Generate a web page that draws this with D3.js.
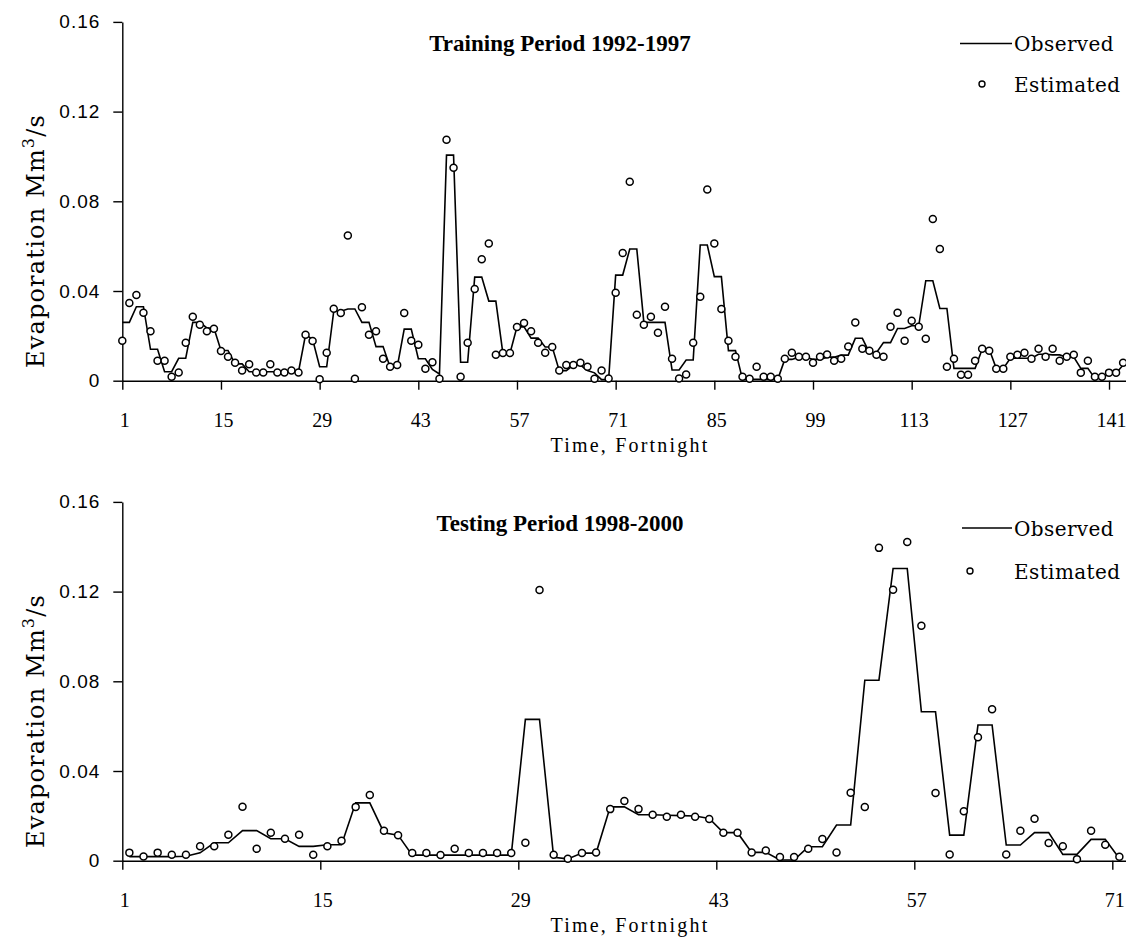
<!DOCTYPE html>
<html>
<head>
<meta charset="utf-8">
<script src="https://cdn.jsdelivr.net/npm/d3@7"></script>
<style>
  body { margin: 0; background: #fff; }
  svg { display: block; background: #fff; }
</style>
</head>
<body>
<svg id="chart" width="1126" height="940"></svg>
<script>
// ---------------- DATA ----------------
const yTickValues = [0, 0.04, 0.08, 0.12, 0.16];

const trainingTitle = "Training Period 1992-1997";
const trainingXTicks = [1, 15, 29, 43, 57, 71, 85, 99, 113, 127, 141];
const trainingObserved = [
  0.026, 0.026, 0.033, 0.033, 0.014, 0.014, 0.004, 0.004, 0.010, 0.010,
  0.026, 0.026, 0.0235, 0.0235, 0.0135, 0.0135, 0.0075, 0.0075, 0.004, 0.004,
  0.004, 0.004, 0.004, 0.004, 0.004, 0.004, 0.0205, 0.0185, 0.0062, 0.0062,
  0.031, 0.031, 0.032, 0.032, 0.026, 0.026, 0.0152, 0.0152, 0.006, 0.006,
  0.023, 0.023, 0.0098, 0.0098, 0.005, 0.003, 0.1006, 0.1006, 0.0082, 0.0082,
  0.0462, 0.0462, 0.0355, 0.0355, 0.0122, 0.0122, 0.024, 0.024, 0.019, 0.019,
  0.015, 0.015, 0.0045, 0.0045, 0.007, 0.007, 0.0045, 0.0035, 0.0005, 0.0005,
  0.0471, 0.0471, 0.0587, 0.0587, 0.026, 0.026, 0.026, 0.026, 0.0048, 0.0048,
  0.0092, 0.0092, 0.0605, 0.0605, 0.0464, 0.0464, 0.0134, 0.0134, 0.0006, 0.0006,
  0.0006, 0.0006, 0.0006, 0.0006, 0.0095, 0.0095, 0.0105, 0.0105, 0.0095, 0.0095,
  0.0105, 0.0105, 0.0114, 0.0114, 0.0189, 0.0189, 0.0125, 0.0125, 0.017, 0.017,
  0.0233, 0.0233, 0.0245, 0.0245, 0.0446, 0.0446, 0.0322, 0.0322, 0.0055, 0.0055,
  0.0055, 0.0055, 0.014, 0.014, 0.0055, 0.0055, 0.01, 0.01, 0.01, 0.01,
  0.0118, 0.0118, 0.0115, 0.0115, 0.0105, 0.0105, 0.0055, 0.0055, 0.001, 0.001,
  0.0033, 0.0033, 0.007
];
const trainingEstimated = [
  0.0178, 0.0346, 0.0382, 0.0303, 0.0221, 0.0089, 0.0089, 0.0018, 0.0037, 0.0169,
  0.0285, 0.025, 0.0221, 0.0232, 0.0132, 0.0107, 0.008, 0.0045, 0.0073, 0.0037,
  0.0037, 0.0073, 0.0037, 0.0037, 0.0045, 0.0037, 0.0205, 0.0177, 0.0007, 0.0125,
  0.0321, 0.0302, 0.0648, 0.0009, 0.0328, 0.0205, 0.0221, 0.0098, 0.0062, 0.007,
  0.0302, 0.0178, 0.016, 0.0053, 0.0082, 0.0009, 0.1074, 0.095, 0.0018, 0.0169,
  0.0409, 0.0542, 0.0612, 0.0116, 0.0123, 0.0123, 0.0239, 0.0257, 0.0221, 0.0169,
  0.0125, 0.015, 0.0045, 0.007, 0.007, 0.008, 0.0062, 0.0009, 0.0045, 0.001,
  0.0392, 0.0569, 0.0887, 0.0294, 0.025, 0.0285, 0.0214, 0.033, 0.0098, 0.001,
  0.0028, 0.0169, 0.0374, 0.0853, 0.0612, 0.032, 0.0178, 0.0107, 0.0018, 0.0009,
  0.0062, 0.0018, 0.0018, 0.0009, 0.0098, 0.0125, 0.0107, 0.0107, 0.008, 0.0107,
  0.0117, 0.0089, 0.0098, 0.0152, 0.0259, 0.0143, 0.0134, 0.0116, 0.0107, 0.0241,
  0.0303, 0.0178, 0.0267, 0.0241, 0.0187, 0.0721, 0.0587, 0.0062, 0.0098, 0.0027,
  0.0027, 0.0089, 0.0143, 0.0134, 0.0053, 0.0053, 0.0107, 0.0116, 0.0125, 0.0098,
  0.0143, 0.0107, 0.0143, 0.0089, 0.0107, 0.0116, 0.0036, 0.0089, 0.0018, 0.0018,
  0.0036, 0.0036, 0.008
];

const testingTitle = "Testing Period 1998-2000";
const testingXTicks = [1, 15, 29, 43, 57, 71];
const testingObserved = [
  0.0018, 0.0018, 0.0018, 0.0018, 0.002, 0.0035, 0.008, 0.008, 0.0134, 0.0134,
  0.0098, 0.0098, 0.0064, 0.0064, 0.0071, 0.0071, 0.0258, 0.0258, 0.0125, 0.0114,
  0.0025, 0.0025, 0.0025, 0.0025, 0.0025, 0.0025, 0.0025, 0.0025, 0.063, 0.063,
  0.0015, 0.0008, 0.0034, 0.0034, 0.024, 0.024, 0.0205, 0.0205, 0.0203, 0.0201,
  0.0199, 0.0188, 0.0125, 0.0125, 0.0037, 0.0037, 0.0003, 0.0003, 0.0062, 0.0062,
  0.0159, 0.0159, 0.0805, 0.0805, 0.1303, 0.1303, 0.0664, 0.0664, 0.0114, 0.0114,
  0.0605, 0.0605, 0.007, 0.007, 0.0125, 0.0125, 0.0028, 0.0028, 0.0095, 0.0095,
  0.001
];
const testingEstimated = [
  0.0036, 0.0019, 0.0036, 0.0027, 0.0027, 0.0064, 0.0064, 0.0116, 0.0241, 0.0053,
  0.0125, 0.0098, 0.0116, 0.0027, 0.0064, 0.0089, 0.024, 0.0293, 0.0134, 0.0114,
  0.0034, 0.0034, 0.0025, 0.0053, 0.0034, 0.0034, 0.0034, 0.0034, 0.008, 0.1207,
  0.0027, 0.0009, 0.0034, 0.0037, 0.023, 0.0266, 0.023, 0.0205, 0.0196, 0.0205,
  0.0196, 0.0186, 0.0125, 0.0125, 0.0037, 0.0045, 0.0016, 0.0016, 0.0053, 0.0097,
  0.0037, 0.0303, 0.0239, 0.1395, 0.1208, 0.1421, 0.1048, 0.0302, 0.0028, 0.0221,
  0.055, 0.0675, 0.0028, 0.0134, 0.0187, 0.0079, 0.0064, 0.0007, 0.0134, 0.0071,
  0.0018
];

const yLabelMain = "Evaporation Mm";
const yLabelSup = "3";
const yLabelTail = "/s";
const xLabel = "Time, Fortnight";
const legendLabels = ["Observed", "Estimated"];

// ---------------- DRAW ----------------
const svg = d3.select("#chart");
const axisX0 = 122.3;

const panels = [
  {
    title: trainingTitle, obs: trainingObserved, est: trainingEstimated, ticks: trainingXTicks,
    off: 0, between: false, nCat: 144, step: 7.048,
    legLineY: 43.5, legCircle: [982, 84], legLine: [960, 1012]
  },
  {
    title: testingTitle, obs: testingObserved, est: testingEstimated, ticks: testingXTicks,
    off: 480, between: true, nCat: 72, step: 14.143,
    legLineY: 528, legCircle: [970, 571], legLine: [962, 1012]
  }
];

const serif = "'Liberation Serif','Times New Roman',serif";
const slab = "'DejaVu Serif',serif";
const sans = "'Liberation Sans',Arial,sans-serif";

panels.forEach(p => {
  const g = svg.append("g");
  const y = d3.scaleLinear().domain([0, 0.16]).range([380.7 + p.off, 21.9 + p.off]);
  let x, tickVals, tickFmt;
  if (p.between) {
    x = d3.scaleLinear().domain([0.5, p.nCat + 0.5]).range([axisX0, axisX0 + p.nCat * p.step]);
    tickVals = p.ticks.map(k => k - 0.5);
    tickFmt = d => String(Math.round(d + 0.5));
  } else {
    x = d3.scaleLinear().domain([1, p.nCat]).range([axisX0, axisX0 + (p.nCat - 1) * p.step]);
    tickVals = p.ticks;
    tickFmt = d => String(d);
  }
  const idx = (d, i) => i + 1;

  // observed line
  const line = d3.line().x((d, i) => x(idx(d, i))).y(d => y(d));
  g.append("path")
    .datum(p.obs)
    .attr("d", line)
    .attr("fill", "none")
    .attr("stroke", "#000")
    .attr("stroke-width", 1.6)
    .attr("stroke-linejoin", "miter");

  // axes
  const yAxis = d3.axisLeft(y).tickValues(yTickValues).tickSize(9).tickSizeOuter(0).tickPadding(13)
    .tickFormat(d => d === 0 ? "0" : d3.format(".2f")(d));
  const ya = g.append("g").attr("transform", `translate(${axisX0},0)`).call(yAxis);
  ya.selectAll("text").attr("font-family", sans).attr("font-size", 19).attr("fill", "#000")
    .attr("letter-spacing", "1px");

  const xAxis = d3.axisBottom(x).tickValues(tickVals).tickSize(9).tickSizeOuter(0).tickPadding(23)
    .tickFormat(tickFmt);
  const xa = g.append("g").attr("transform", `translate(0,${y(0)})`).call(xAxis);
  xa.selectAll("text").attr("font-family", serif).attr("font-size", 20).attr("fill", "#000").attr("dx", 2);

  [ya, xa].forEach(a => {
    a.select(".domain").attr("stroke", "#000").attr("stroke-width", 1.4);
    a.selectAll(".tick line").attr("stroke", "#000").attr("stroke-width", 1.4);
  });

  // estimated circles (on top)
  g.append("g").selectAll("circle")
    .data(p.est)
    .join("circle")
    .attr("cx", (d, i) => x(idx(d, i)))
    .attr("cy", d => y(d))
    .attr("r", 3.5)
    .attr("fill", "#fff")
    .attr("stroke", "#000")
    .attr("stroke-width", 1.5);

  // title
  g.append("text")
    .attr("x", 560).attr("y", 51 + p.off)
    .attr("text-anchor", "middle")
    .attr("font-family", serif).attr("font-weight", "bold").attr("font-size", 23)
    .text(p.title);

  // x label
  g.append("text")
    .attr("x", 630).attr("y", y(0) + 71)
    .attr("text-anchor", "middle")
    .attr("font-family", serif).attr("font-size", 20).attr("letter-spacing", "2.2px")
    .text(xLabel);

  // y label
  const yl = g.append("text")
    .attr("transform", `translate(44,${241 + p.off}) rotate(-90)`)
    .attr("text-anchor", "middle")
    .attr("font-family", slab).attr("font-size", 24).attr("letter-spacing", "1.2px");
  yl.append("tspan").text(yLabelMain);
  yl.append("tspan").attr("dy", -10).attr("font-size", 16).text(yLabelSup);
  yl.append("tspan").attr("dy", 10).text(yLabelTail);

  // legend
  g.append("line")
    .attr("x1", p.legLine[0]).attr("x2", p.legLine[1])
    .attr("y1", p.legLineY).attr("y2", p.legLineY)
    .attr("stroke", "#000").attr("stroke-width", 1.6);
  g.append("text")
    .attr("x", 1014).attr("y", p.legLineY + 7.5)
    .attr("font-family", slab).attr("font-size", 20).attr("letter-spacing", "0.4px")
    .text(legendLabels[0]);
  g.append("circle")
    .attr("cx", p.legCircle[0]).attr("cy", p.legCircle[1]).attr("r", 3)
    .attr("fill", "#fff").attr("stroke", "#000").attr("stroke-width", 1.4);
  g.append("text")
    .attr("x", 1014).attr("y", p.legCircle[1] + 7.5)
    .attr("font-family", slab).attr("font-size", 20).attr("letter-spacing", "0.4px")
    .text(legendLabels[1]);
});
</script>
</body>
</html>
